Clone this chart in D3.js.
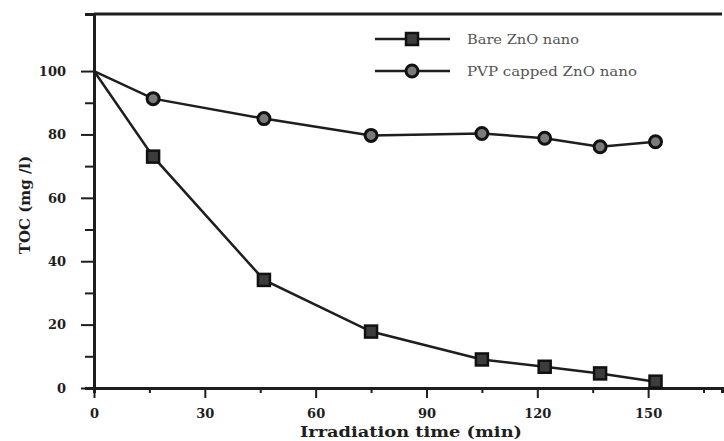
<!DOCTYPE html>
<html>
<head>
<meta charset="utf-8">
<script src="https://cdn.jsdelivr.net/npm/d3@7"></script>
<style>
  body { margin: 0; background: #fff; }
  svg { display: block; }
</style>
</head>
<body>
<svg id="chart" width="724" height="441"></svg>
<script>
// values
const times = [0, 16, 46, 75, 105, 122, 137, 152]
const bareToc = [100, 73.0, 34.1, 17.8, 9.0, 6.7, 4.6, 2.0]
const pvpToc = [100, 91.3, 85.0, 79.7, 80.3, 78.8, 76.1, 77.7]
const seriesNames = ['Bare ZnO nano', 'PVP capped ZnO nano']
const xMajorTicks = [0, 30, 60, 90, 120, 150]
const xMinorTicks = [15, 45, 75, 105, 135, 165]
const yMajorTicks = [0, 20, 40, 60, 80, 100]
const yMinorTicks = [10, 30, 50, 70, 90]

const ink = '#1e1e1e'
const serif = '"DejaVu Serif", "Liberation Serif", serif'

const svg = d3.select('#chart')

const x = d3.scaleLinear().domain([0, 170]).range([94, 722])
const y = d3.scaleLinear().domain([0, 118]).range([388, 14])

/**
 * Styles an axis group the way the figure does it.
 *
 * @param {*} g The axis group
 * @param {number} fontSize The font size of the tick labels
 */
function styleAxis (g, fontSize) {
  g.select('.domain').attr('stroke', ink).attr('stroke-width', 3)
  g.selectAll('.tick line').attr('stroke', ink).attr('stroke-width', 2)
  g.selectAll('.tick text')
    .attr('fill', ink)
    .style('font-family', serif)
    .style('font-weight', 'bold')
    .style('font-size', fontSize + 'px')
}

// minor ticks first, majors on top
svg.append('g')
  .attr('transform', `translate(0,${y(0)})`)
  .call(d3.axisBottom(x).tickValues(xMinorTicks).tickSize(5).tickFormat(''))
  .call(g => styleAxis(g, 13))

svg.append('g')
  .attr('transform', `translate(${x(0)},0)`)
  .call(d3.axisLeft(y).tickValues(yMinorTicks).tickSize(9).tickFormat(''))
  .call(g => styleAxis(g, 13))

svg.append('g')
  .attr('transform', `translate(0,${y(0)})`)
  .call(d3.axisBottom(x).tickValues(xMajorTicks).tickSize(10).tickPadding(11).tickSizeOuter(0))
  .call(g => styleAxis(g, 13))

svg.append('g')
  .attr('transform', `translate(${x(0)},0)`)
  .call(d3.axisLeft(y).tickValues(yMajorTicks).tickSize(13).tickPadding(15).tickSizeOuter(0))
  .call(g => styleAxis(g, 13))

// top frame
svg.append('line')
  .attr('x1', x(0)).attr('x2', x(170))
  .attr('y1', y(118)).attr('y2', y(118))
  .attr('stroke', ink).attr('stroke-width', 3)

// axis titles
svg.append('text')
  .attr('x', 411).attr('y', 437)
  .attr('text-anchor', 'middle')
  .attr('fill', ink)
  .attr('textLength', 222).attr('lengthAdjust', 'spacingAndGlyphs')
  .style('font-family', serif).style('font-weight', 'bold').style('font-size', '15px')
  .text('Irradiation time (min)')

svg.append('text')
  .attr('transform', 'translate(30,205) rotate(-90)')
  .attr('text-anchor', 'middle')
  .attr('fill', ink)
  .style('font-family', serif).style('font-weight', 'bold').style('font-size', '15px')
  .text('TOC (mg /l)')

const bare = times.map((t, i) => ({ t: t, v: bareToc[i] }))
const pvp = times.map((t, i) => ({ t: t, v: pvpToc[i] }))

const line = d3.line().x(d => x(d.t)).y(d => y(d.v))

svg.append('path').datum(bare)
  .attr('d', line).attr('fill', 'none').attr('stroke', ink).attr('stroke-width', 2.5)
svg.append('path').datum(pvp)
  .attr('d', line).attr('fill', 'none').attr('stroke', ink).attr('stroke-width', 2.5)

/**
 * Draws a square marker centered on (cx, cy).
 */
function square (g, cx, cy) {
  g.append('rect')
    .attr('x', cx - 6).attr('y', cy - 6)
    .attr('width', 12).attr('height', 12)
    .attr('fill', '#3c3c3c').attr('stroke', '#111').attr('stroke-width', 2.5)
}

/**
 * Draws a ring marker centered on (cx, cy).
 */
function ring (g, cx, cy) {
  g.append('circle')
    .attr('cx', cx).attr('cy', cy).attr('r', 6)
    .attr('fill', '#7a7a7a').attr('stroke', '#111').attr('stroke-width', 3)
}

const markers = svg.append('g')
// the first point (t = 0) carries no marker
bare.slice(1).forEach(d => square(markers, x(d.t), y(d.v)))
pvp.slice(1).forEach(d => ring(markers, x(d.t), y(d.v)))

// legend
const legend = svg.append('g')
const rows = [{ y: 39, draw: square, w: 112 }, { y: 71, draw: ring, w: 170 }]
rows.forEach((r, i) => {
  legend.append('line')
    .attr('x1', 375).attr('x2', 450).attr('y1', r.y).attr('y2', r.y)
    .attr('stroke', ink).attr('stroke-width', 2.5)
  r.draw(legend, 412, r.y)
  legend.append('text')
    .attr('x', 467).attr('y', r.y + 4.5)
    .attr('fill', '#555')
    .attr('textLength', r.w).attr('lengthAdjust', 'spacingAndGlyphs')
    .style('font-family', serif).style('font-size', '12.5px')
    .text(seriesNames[i])
})
</script>
</body>
</html>
